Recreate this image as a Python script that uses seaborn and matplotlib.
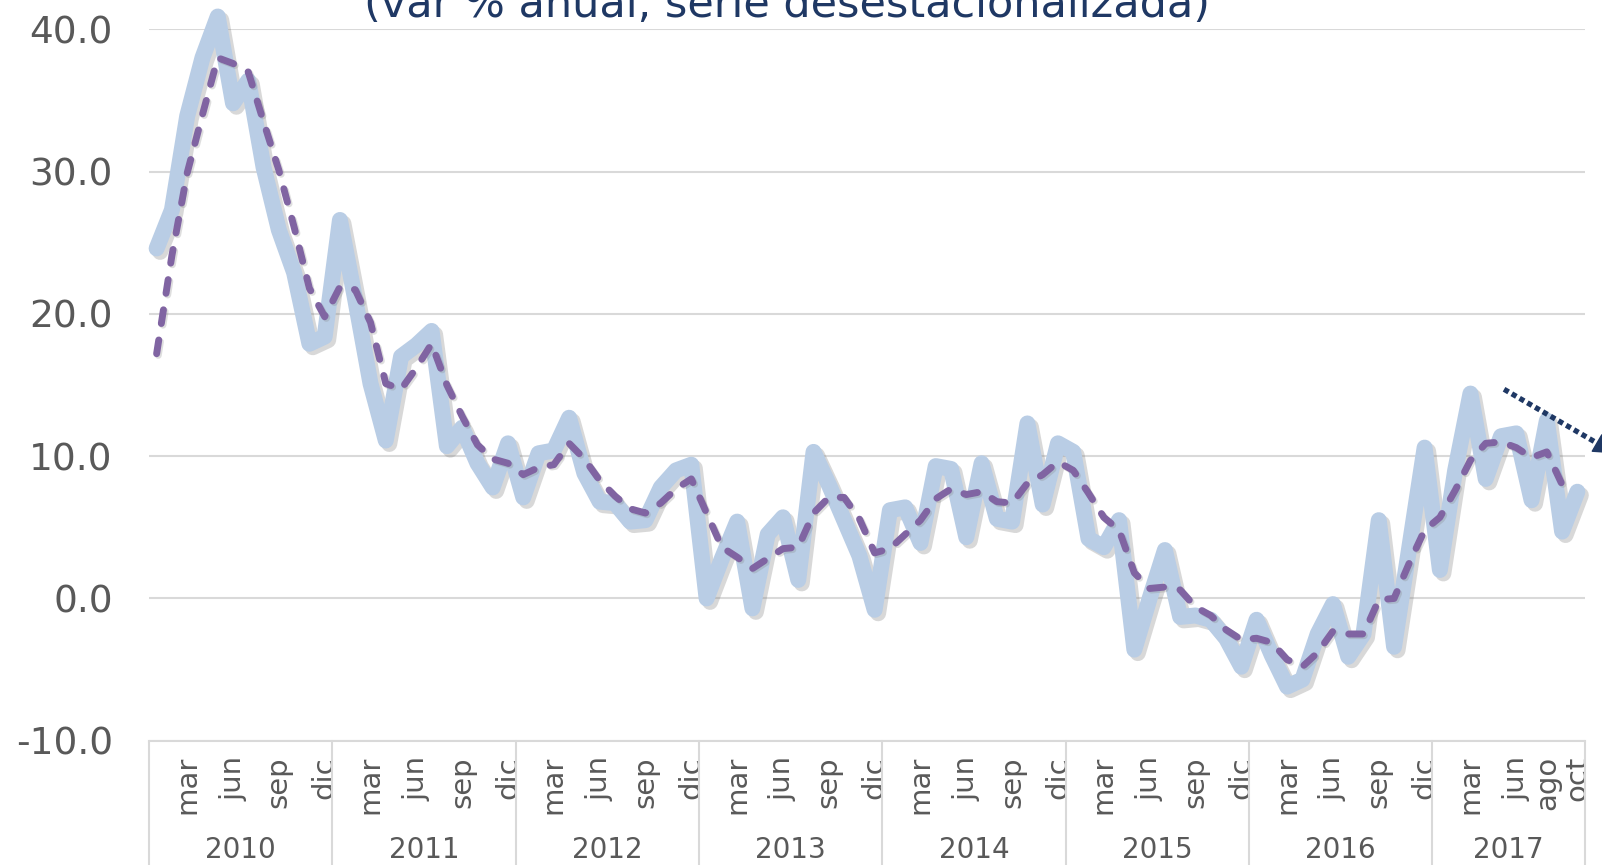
import numpy as np
import pandas as pd
import matplotlib
matplotlib.use('Agg')
import matplotlib.pyplot as plt
import matplotlib.patheffects as pe
import matplotlib.transforms as mtransforms
import seaborn as sns

# Data: monthly, Jan 2010 - Oct 2017 (var % anual)
years = ['2010', '2011', '2012', '2013', '2014', '2015', '2016', '2017']
months_per_year = [12, 12, 12, 12, 12, 12, 12, 10]

serie = [
    24.6, 27.3, 33.9, 38.0, 40.9, 34.8, 36.4, 30.3, 25.9, 22.9, 17.9, 18.4,   # 2010
    26.6, 21.0, 15.1, 11.1, 17.0, 17.8, 18.8, 10.7, 12.0, 9.5, 7.8, 10.9,     # 2011
    7.1, 10.2, 10.4, 12.7, 8.8, 6.8, 6.7, 5.4, 5.5, 7.8, 9.0, 9.4,            # 2012
    0.0, 2.8, 5.4, -0.7, 4.5, 5.7, 1.3, 10.3, 8.0, 5.5, 3.0, -0.8,            # 2013
    6.2, 6.4, 3.9, 9.3, 9.1, 4.3, 9.5, 5.6, 5.4, 12.3, 6.6, 10.9,             # 2014
    10.3, 4.2, 3.6, 5.5, -3.6, 0.0, 3.4, -1.3, -1.2, -1.5, -2.8, -4.8,        # 2015
    -1.5, -4.0, -6.2, -5.7, -2.5, -0.4, -4.1, -2.5, 5.5, -3.4, 3.6, 10.6,     # 2016
    2.0, 9.0, 14.4, 8.4, 11.4, 11.6, 6.9, 12.5, 4.7, 7.5,                     # 2017
]

tendencia = [
    17.2, 24.1, 29.9, 34.0, 38.0, 37.6, 37.0, 33.5, 30.1, 26.1, 21.8, 19.8,
    21.9, 21.7, 19.4, 15.1, 14.7, 16.2, 17.9, 15.0, 12.8, 10.8, 9.8, 9.5,
    8.7, 9.2, 9.4, 10.9, 9.8, 8.3, 7.2, 6.3, 6.0, 6.7, 7.7, 8.4,
    6.0, 3.6, 2.9, 2.1, 2.8, 3.5, 3.6, 6.0, 7.1, 7.1, 5.6, 3.2,
    3.5, 4.5, 5.5, 7.0, 7.7, 7.3, 7.5, 6.8, 6.7, 8.1, 8.7, 9.6,
    9.0, 7.4, 5.7, 4.8, 1.8, 0.7, 0.8, 0.6, -0.6, -1.2, -2.2, -2.9,
    -2.8, -3.1, -4.3, -4.8, -3.8, -2.3, -2.5, -2.5, -0.1, 0.0, 2.5, 4.8,
    5.7, 7.6, 9.7, 10.9, 11.0, 10.6, 9.9, 10.3, 8.0,
]

month_ticks = ['mar', 'jun', 'sep', 'dic'] * 7 + ['mar', 'jun', 'ago', 'oct']
month_tick_pos = [y * 12 + m for y in range(7) for m in (2, 5, 8, 11)] + [86, 89, 91, 93]

yticks = [-10, 0, 10, 20, 30, 40]
title = '(var % anual, serie desestacionalizada)'

# arrow annotation (data coords)
arrow_start = (88.2, 14.7)
arrow_end = (95.6, 10.1)

df = pd.DataFrame({'mes': np.arange(len(serie)), 'serie': serie})
df_t = pd.DataFrame({'mes': np.arange(len(tendencia)), 'tendencia': tendencia})

sns.set_theme(style='white')
plt.rcParams['font.family'] = ['DejaVu Sans']

fig = plt.figure(figsize=(16.02, 8.65), dpi=100)
ax = fig.add_axes([0.0930, 0.1437, 0.8964, 0.8224])

sns.lineplot(data=df, x='mes', y='serie', ax=ax, color='#B9CDE5', linewidth=11.5)
sns.lineplot(data=df_t, x='mes', y='tendencia', ax=ax, color='#8064A2', linewidth=5)

blue, purple = ax.lines[0], ax.lines[1]
blue.set_solid_joinstyle('round')
blue.set_solid_capstyle('round')
blue.set_clip_on(False)
blue.set_path_effects([pe.SimpleLineShadow(offset=(2.5, -2.5), shadow_color='#7f7f7f', alpha=0.3),
                       pe.Normal()])
purple.set_dashes([2.0, 2.4])
purple.set_dash_capstyle('round')
purple.set_clip_on(False)
purple.set_path_effects([pe.SimpleLineShadow(offset=(1.2, -1.2), shadow_color='#7f7f7f', alpha=0.25),
                         pe.Normal()])

ax.set_xlim(-0.5, len(serie) - 0.5)
ax.set_ylim(-10, 40)
ax.set_yticks(yticks)
ax.set_yticklabels([f'{v:.1f}' for v in yticks], fontsize=27, color='#595959')
ax.set_xticks(month_tick_pos)
ax.set_xticklabels(month_ticks, rotation=90, fontsize=21, color='#595959', va='top')
ax.tick_params(axis='y', length=0, pad=26)
ax.tick_params(axis='x', length=0, pad=11)
ax.set_xlabel('')
ax.set_ylabel('')
ax.yaxis.grid(True, color='#D9D9D9', linewidth=1.5)
ax.xaxis.grid(False)
for s in ['top', 'right', 'left']:
    ax.spines[s].set_visible(False)
ax.spines['bottom'].set_color('#D9D9D9')
ax.spines['bottom'].set_linewidth(1.5)
ax.set_axisbelow(True)

# year groups under the axis
trans = mtransforms.blended_transform_factory(ax.transData, ax.transAxes)
bounds = np.concatenate([[0], np.cumsum(months_per_year)]) - 0.5
for b in bounds:
    ax.plot([b, b], [0, -0.2], transform=trans, color='#D9D9D9', lw=1.5, clip_on=False)
for yr, a, b in zip(years, bounds[:-1], bounds[1:]):
    ax.text((a + b) / 2, -0.153, yr, transform=trans, ha='center', va='center',
            fontsize=20, color='#595959')

# dotted arrow at the right
ax.plot([arrow_start[0], arrow_end[0]], [arrow_start[1], arrow_end[1]],
        color='#1F3864', lw=3.8, linestyle=(0, (1, 0.7)), clip_on=False)
ax.annotate('', xy=arrow_end, xytext=(arrow_end[0] - 1.2, arrow_end[1] + 0.75),
            arrowprops=dict(arrowstyle='-|>', color='#1F3864', lw=1, mutation_scale=34),
            annotation_clip=False)

fig.text(787 / 1602, 1 - 17.5 / 865, title, ha='center', va='baseline',
         fontsize=31, color='#1F3864')

fig.savefig('out.png', dpi=100)
